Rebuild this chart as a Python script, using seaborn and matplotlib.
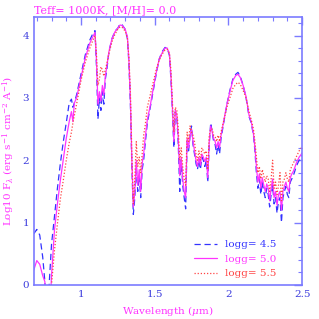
import numpy as np
import pandas as pd
import matplotlib
matplotlib.use("Agg")
import matplotlib.pyplot as plt
import seaborn as sns

wave = [0.68, 0.70, 0.72, 0.74, 0.755, 0.765, 0.775, 0.785, 0.80, 0.82,
        0.84, 0.86, 0.88, 0.90, 0.92, 0.935, 0.945, 0.955, 0.97, 1.00,
        1.03, 1.06, 1.08, 1.095, 1.105, 1.115, 1.125, 1.135, 1.145, 1.155,
        1.165, 1.175, 1.19, 1.21, 1.23, 1.25, 1.265, 1.28, 1.30, 1.315,
        1.325, 1.335, 1.345, 1.355, 1.365, 1.375, 1.385, 1.395, 1.405, 1.415,
        1.425, 1.435, 1.45, 1.47, 1.49, 1.51, 1.53, 1.55, 1.57, 1.585,
        1.60, 1.61, 1.62, 1.63, 1.64, 1.65, 1.66, 1.67, 1.68, 1.69,
        1.70, 1.71, 1.72, 1.73, 1.74, 1.75, 1.76, 1.77, 1.78, 1.79,
        1.80, 1.81, 1.82, 1.83, 1.84, 1.85, 1.86, 1.87, 1.88, 1.89,
        1.90, 1.91, 1.92, 1.93, 1.94, 1.95, 1.97, 1.99, 2.01, 2.03,
        2.05, 2.065, 2.08, 2.10, 2.12, 2.14, 2.155, 2.17, 2.18, 2.19,
        2.20, 2.21, 2.22, 2.23, 2.24, 2.25, 2.26, 2.27, 2.28, 2.29,
        2.30, 2.31, 2.32, 2.33, 2.34, 2.35, 2.36, 2.37, 2.38, 2.39,
        2.40, 2.41, 2.42, 2.43, 2.44, 2.45, 2.46, 2.47, 2.48, 2.49,
        2.50]

flux_45 = [0.82, 0.89, 0.80, 0.45, 0.05, -1.0, -0.5, 0.05, 0.65, 1.10,
           1.55, 1.95, 2.30, 2.60, 2.92, 2.98, 2.85, 2.92, 3.05, 3.38,
           3.70, 3.93, 4.03, 4.08, 3.50, 2.66, 3.00, 2.80, 3.10, 2.90,
           3.30, 3.45, 3.75, 3.95, 4.07, 4.12, 4.19, 4.17, 4.10, 3.95,
           3.55, 2.90, 1.90, 1.13, 1.40, 1.90, 1.50, 1.75, 1.40, 1.85,
           2.00, 2.25, 2.60, 2.85, 3.12, 3.38, 3.62, 3.74, 3.81, 3.80,
           3.68, 3.30, 2.80, 2.20, 2.78, 2.70, 2.25, 1.50, 2.00, 1.60,
           1.40, 1.22, 2.30, 2.15, 2.40, 2.55, 2.25, 2.10, 1.95, 1.85,
           2.00, 1.85, 2.05, 2.00, 1.90, 2.00, 1.65, 2.25, 2.60, 2.45,
           2.30, 2.25, 2.10, 2.25, 2.10, 2.35, 2.62, 2.90, 3.12, 3.30,
           3.38, 3.41, 3.35, 3.20, 3.00, 2.70, 2.60, 2.40, 2.15, 1.80,
           1.55, 1.70, 1.45, 1.65, 1.50, 1.40, 1.55, 1.45, 1.25, 1.45,
           1.60, 1.30, 1.40, 1.15, 1.35, 1.40, 1.00, 1.40, 1.50, 1.58,
           1.45, 1.40, 1.65, 1.70, 1.75, 1.82, 1.90, 1.95, 2.00, 2.03,
           2.08]

flux_50 = [0.24, 0.39, 0.33, 0.15, 0.05, -1.0, -1.0, -0.6, 0.15, 0.88,
           1.30, 1.68, 2.02, 2.35, 2.62, 2.78, 2.62, 2.92, 3.00, 3.33,
           3.65, 3.88, 3.98, 4.05, 3.60, 2.90, 3.10, 2.95, 3.20, 3.05,
           3.35, 3.50, 3.75, 3.95, 4.06, 4.12, 4.17, 4.16, 4.10, 3.98,
           3.60, 3.00, 2.00, 1.25, 1.50, 2.00, 1.60, 1.85, 1.50, 1.95,
           2.10, 2.35, 2.65, 2.88, 3.15, 3.40, 3.62, 3.72, 3.80, 3.80,
           3.70, 3.35, 2.85, 2.30, 2.80, 2.72, 2.35, 1.75, 2.05, 1.70,
           1.50, 1.40, 2.35, 2.20, 2.40, 2.50, 2.30, 2.15, 2.00, 1.90,
           2.05, 1.92, 2.10, 2.05, 1.98, 2.05, 1.72, 2.30, 2.55, 2.45,
           2.35, 2.30, 2.20, 2.30, 2.20, 2.40, 2.65, 2.90, 3.10, 3.28,
           3.36, 3.38, 3.33, 3.20, 3.02, 2.72, 2.62, 2.42, 2.20, 1.90,
           1.65, 1.78, 1.55, 1.72, 1.60, 1.50, 1.62, 1.55, 1.35, 1.55,
           1.70, 1.40, 1.50, 1.28, 1.45, 1.50, 1.20, 1.50, 1.58, 1.65,
           1.55, 1.50, 1.72, 1.78, 1.82, 1.88, 1.95, 2.00, 2.05, 2.08,
           2.12]

flux_55 = [-1.0, -1.0, -1.0, -1.0, -1.0, -1.0, -1.0, -1.0, 0.00, 0.55,
           0.98, 1.38, 1.68, 2.00, 2.28, 2.45, 2.60, 2.72, 2.90, 3.28,
           3.58, 3.80, 3.92, 4.00, 3.70, 3.20, 3.30, 3.50, 3.45, 3.35,
           3.45, 3.55, 3.72, 3.90, 4.02, 4.10, 4.14, 4.13, 4.07, 3.95,
           3.65, 3.10, 2.10, 1.30, 1.70, 2.30, 1.90, 2.05, 1.80, 2.10,
           2.40, 2.55, 2.85, 3.05, 3.25, 3.45, 3.60, 3.70, 3.77, 3.78,
           3.72, 3.45, 2.95, 2.45, 2.85, 2.80, 2.50, 2.00, 2.20, 1.90,
           1.70, 1.60, 2.45, 2.30, 2.55, 2.45, 2.40, 2.30, 2.10, 2.00,
           2.15, 2.00, 2.20, 2.15, 2.10, 2.15, 1.85, 2.40, 2.50, 2.50,
           2.40, 2.38, 2.30, 2.40, 2.30, 2.45, 2.65, 2.85, 3.00, 3.15,
           3.22, 3.25, 3.22, 3.12, 3.00, 2.78, 2.65, 2.50, 2.30, 2.05,
           1.80, 1.90, 1.70, 1.85, 1.75, 1.65, 1.75, 1.70, 1.50, 1.70,
           2.00, 1.55, 1.65, 1.45, 1.60, 1.80, 1.35, 1.65, 1.70, 1.80,
           1.70, 1.65, 1.85, 1.90, 1.95, 2.00, 2.05, 2.10, 2.15, 2.18,
           2.22]

labels = ["logg= 4.5", "logg= 5.0", "logg= 5.5"]
title_text = "Teff= 1000K, [M/H]= 0.0"

assert len(wave) == len(flux_45) == len(flux_50) == len(flux_55)

sns.set_style("white")
plt.rcParams['font.family'] = ['DejaVu Serif']
plt.rcParams['mathtext.fontset'] = 'dejavuserif'

axis_col = '#7b7bff'
tick_col = '#3b3bdd'
mag = '#ff33ff'

fig = plt.figure(figsize=(3.19, 3.19), dpi=100)
ax = fig.add_axes([0.107, 0.107, 0.84, 0.84])

styles = [('#3333ff', (0, (5, 3))), ('#ff33ff', '-'), ('#ff4444', (0, (1, 1.5)))]
for fl, lab, (c, ls) in zip([flux_45, flux_50, flux_55], labels, styles):
    df = pd.DataFrame({'wave': wave, 'flux': fl})
    sns.lineplot(data=df, x='wave', y='flux', ax=ax, color=c, linestyle=ls,
                 linewidth=0.9, label=lab, sort=False)

ax.set_xlim(0.682, 2.5)
ax.set_ylim(0, 4.3)
ax.set_xticks([1, 1.5, 2, 2.5])
ax.set_xticklabels(['1', '1.5', '2', '2.5'])
ax.set_xticks(np.arange(0.7, 2.5, 0.1), minor=True)
ax.set_yticks([0, 1, 2, 3, 4])
ax.set_yticks(np.arange(0, 4.3, 0.2), minor=True)
ax.tick_params(which='both', direction='in', top=True, right=True,
               color=axis_col, labelcolor=tick_col, labelsize=7.5)
ax.tick_params(which='major', length=6, width=1)
ax.tick_params(which='minor', length=3, width=0.8)
for s in ax.spines.values():
    s.set_color(axis_col)
    s.set_linewidth(1.2)

ax.set_xlabel(r'Wavelength ($\mu$m)', color=mag, fontsize=7.5, labelpad=4)
ax.set_ylabel(r'Log10 F$_\lambda$ (erg s$^{-1}$ cm$^{-2}$ A$^{-1}$)',
              color=mag, fontsize=7.5, labelpad=4)
ax.set_title(title_text, loc='left', color=mag, fontsize=8, pad=3)

leg = ax.legend(loc='lower right', bbox_to_anchor=(0.94, -0.01), frameon=False,
                fontsize=7.5, handlelength=2.2, handletextpad=0.8,
                labelspacing=0.5, labelcolor='linecolor')

fig.savefig('out.png', dpi=100)
